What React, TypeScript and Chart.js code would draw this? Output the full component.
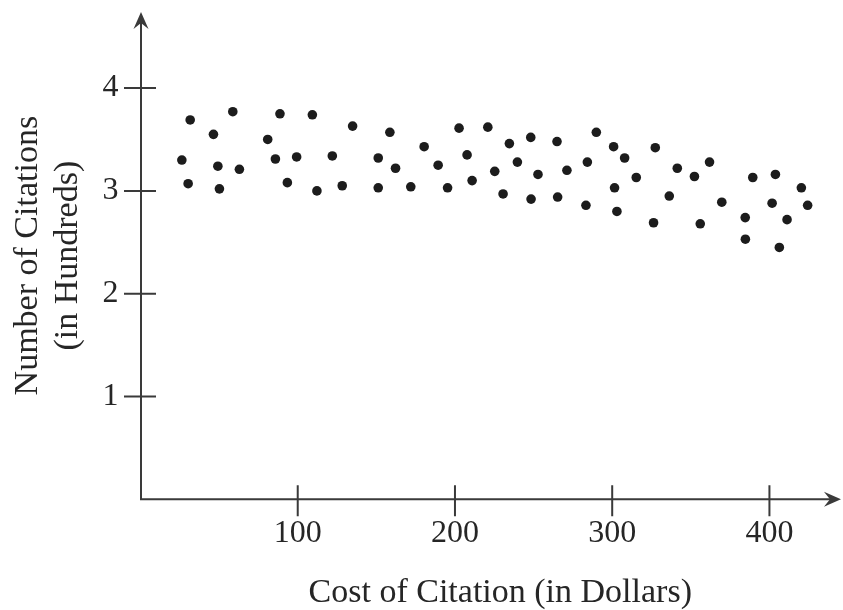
import React, { useEffect, useRef } from 'react';
import { Chart, registerables } from 'chart.js';

Chart.register(...registerables);

// Cost of citation (dollars)
const costDollars: number[] = [
  31.6, 58.7, 46.4, 88.7, 109.3, 134.9, 80.9, 26.3, 49.2, 62.9,
  85.8, 99.3, 122.0, 151.2, 30.3, 50.2, 93.4, 112.2, 128.3, 151.2,
  158.6, 162.2, 171.9, 180.4, 189.3, 195.3, 202.6, 207.7, 210.9, 220.9,
  225.3, 230.6, 234.6, 239.7, 248.2, 248.4, 252.8, 264.9, 265.3, 271.2,
  283.3, 284.2, 289.9, 300.9, 301.5, 303.0, 307.9, 315.3, 327.4, 341.4,
  336.3, 326.3, 352.3, 361.9, 356.0, 369.7, 389.4, 403.8, 384.6, 384.7,
  401.7, 406.3, 411.2, 420.3, 424.3,
];

// Number of citations (hundreds)
const citationsHundreds: number[] = [
  3.69, 3.77, 3.55, 3.75, 3.74, 3.63, 3.50, 3.30, 3.24, 3.21,
  3.31, 3.33, 3.34, 3.32, 3.07, 3.02, 3.08, 3.00, 3.05, 3.03,
  3.57, 3.22, 3.04, 3.43, 3.25, 3.03, 3.61, 3.35, 3.10, 3.62,
  3.19, 2.97, 3.46, 3.28, 3.52, 2.92, 3.16, 3.48, 2.94, 3.20,
  2.86, 3.28, 3.57, 3.43, 3.03, 2.80, 3.32, 3.13, 3.42, 3.22,
  2.95, 2.69, 3.14, 3.28, 2.68, 2.89, 3.13, 3.16, 2.74, 2.53,
  2.88, 2.45, 2.72, 3.03, 2.86,
];

const xTickValues: number[] = [100, 200, 300, 400];
const yTickValues: number[] = [1, 2, 3, 4];
const xAxisTitle = 'Cost of Citation (in Dollars)';
const yAxisTitle: string[] = ['Number of Citations', '(in Hundreds)'];

const X_MIN = 0;
const X_MAX = 457.6;
const X_ARROW_END = 445.5;
const Y_MIN = 0;
const Y_MAX = 4.74;

const FONT_FAMILY = '"Liberation Serif", "Times New Roman", "DejaVu Serif", serif';
const TEXT_COLOR = '#262626';
const AXIS_COLOR = '#3a3a3a';
const DOT_COLOR = '#1c1c1c';

function arrowhead(ctx: CanvasRenderingContext2D, x: number, y: number, angle: number) {
  ctx.save();
  ctx.translate(x, y);
  ctx.rotate(angle);
  ctx.beginPath();
  ctx.moveTo(0, 0);
  ctx.lineTo(-17, -7.5);
  ctx.lineTo(-11, 0);
  ctx.lineTo(-17, 7.5);
  ctx.closePath();
  ctx.fill();
  ctx.restore();
}

const arrowAxesPlugin = {
  id: 'arrowAxes',
  afterDraw(chart: any) {
    const { ctx, scales } = chart;
    const xs = scales.x;
    const ys = scales.y;
    const ox = xs.getPixelForValue(X_MIN) + 0.5;
    const oy = ys.getPixelForValue(Y_MIN);
    const xEnd = xs.getPixelForValue(X_ARROW_END);
    const yEnd = ys.getPixelForValue(Y_MAX);
    ctx.save();
    ctx.strokeStyle = AXIS_COLOR;
    ctx.fillStyle = AXIS_COLOR;
    ctx.lineWidth = 2;
    ctx.beginPath();
    ctx.moveTo(ox - 1, oy);
    ctx.lineTo(xEnd - 10, oy);
    ctx.moveTo(ox, oy + 1);
    ctx.lineTo(ox, yEnd + 10);
    xTickValues.forEach((v) => {
      const px = xs.getPixelForValue(v);
      ctx.moveTo(px, oy - 14);
      ctx.lineTo(px, oy + 17);
    });
    yTickValues.forEach((v) => {
      const py = ys.getPixelForValue(v);
      ctx.moveTo(ox - 17, py);
      ctx.lineTo(ox + 15, py);
    });
    ctx.stroke();
    arrowhead(ctx, xEnd, oy, 0);
    arrowhead(ctx, ox, yEnd, -Math.PI / 2);
    ctx.restore();
  },
};

function zeroPadding(scale: any) {
  scale.paddingTop = 0;
  scale.paddingBottom = 0;
  scale.paddingLeft = 0;
  scale.paddingRight = 0;
}

export default function App() {
  const canvasRef = useRef<HTMLCanvasElement | null>(null);

  useEffect(() => {
    const canvas = canvasRef.current;
    if (!canvas) return;
    const points = costDollars.map((x, i) => ({ x, y: citationsHundreds[i] }));
    const chart = new Chart(canvas, {
      type: 'scatter',
      data: {
        datasets: [
          {
            data: points,
            pointRadius: 4.8,
            pointHoverRadius: 4.8,
            pointBackgroundColor: DOT_COLOR,
            pointBorderColor: DOT_COLOR,
            pointBorderWidth: 0,
          },
        ],
      },
      options: {
        animation: false,
        responsive: false,
        events: [],
        layout: { autoPadding: false, padding: { left: 0, right: 0, top: 12, bottom: 0 } },
        plugins: {
          legend: { display: false },
          tooltip: { enabled: false },
        },
        scales: {
          x: {
            type: 'linear',
            min: X_MIN,
            max: X_MAX,
            grid: { display: false, drawTicks: false },
            border: { display: false },
            afterBuildTicks: (scale: any) => {
              scale.ticks = xTickValues.map((v) => ({ value: v }));
            },
            afterFit: (scale: any) => {
              scale.height = 110.7;
              zeroPadding(scale);
            },
            ticks: {
              autoSkip: false,
              maxRotation: 0,
              padding: 15,
              color: TEXT_COLOR,
              font: { family: FONT_FAMILY, size: 32, lineHeight: 1.2 },
              callback: (v: any) => String(v),
            },
            title: {
              display: true,
              text: xAxisTitle,
              color: TEXT_COLOR,
              padding: { top: 0, bottom: 0 },
              font: { family: FONT_FAMILY, size: 34, lineHeight: 1 },
            },
          },
          y: {
            type: 'linear',
            min: Y_MIN,
            max: Y_MAX,
            grid: { display: false, drawTicks: false },
            border: { display: false },
            afterBuildTicks: (scale: any) => {
              scale.ticks = yTickValues.map((v) => ({ value: v }));
            },
            afterFit: (scale: any) => {
              scale.width = 140.5;
              zeroPadding(scale);
            },
            ticks: {
              autoSkip: false,
              padding: 22,
              color: TEXT_COLOR,
              font: { family: FONT_FAMILY, size: 32, lineHeight: 1.2 },
              callback: (v: any) => String(v),
            },
            title: {
              display: true,
              text: yAxisTitle,
              color: TEXT_COLOR,
              padding: { top: 8, bottom: 0 },
              font: { family: FONT_FAMILY, size: 34, lineHeight: 40 / 34 },
            },
          },
        },
      },
      plugins: [arrowAxesPlugin],
    } as any);
    return () => {
      chart.destroy();
    };
  }, []);

  return (
    <div style={{ position: 'absolute', left: 0, top: 0, width: 843, height: 610, overflow: 'hidden', background: '#ffffff' }}>
      <canvas ref={canvasRef} width={860} height={610} style={{ display: 'block' }} />
    </div>
  );
}
